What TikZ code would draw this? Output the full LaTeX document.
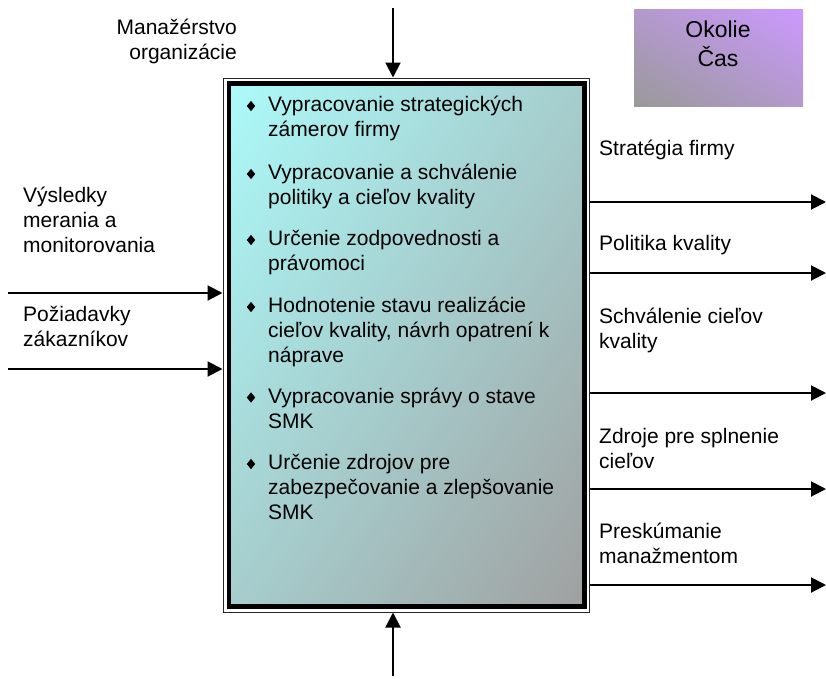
\documentclass[tikz,border=0pt]{standalone}
\usepackage{fontspec}
\setmainfont{Liberation Sans}
\usetikzlibrary{arrows.meta,shadings,shapes.geometric}
\definecolor{boxcyan}{RGB}{172,250,250}
\definecolor{boxgray}{RGB}{160,160,160}
\definecolor{envpurple}{RGB}{204,153,255}
\definecolor{envgray}{RGB}{153,153,153}
\begin{document}
\begin{tikzpicture}[x=1pt,y=-1pt,
  lbl/.style={inner sep=0pt, anchor=north west, align=left,
    font=\fontsize{21}{25}\selectfont},
  flow/.style={line width=2pt, -{Triangle[length=15pt,width=15pt]}},
  bulletmark/.style={diamond, fill=black, inner sep=0pt,
    minimum width=8.5pt, minimum height=10.5pt},
]
\useasboundingbox (0,0) rectangle (826,678);

% activity box: thin outer frame and heavy shaded inner frame
\node[draw=black!85, line width=1pt, minimum width=366pt, minimum height=534pt,
      inner sep=0pt] (outer) at (406,345) {};
\node[shade, shading=bilinear interpolation,
      upper left=boxcyan, lower right=boxgray,
      upper right=boxcyan!50!boxgray, lower left=boxcyan!50!boxgray,
      draw=black, line width=4.5pt, minimum width=355.5pt, minimum height=523pt,
      inner sep=0pt] (proc) at (406.75,345) {};

% environment box
\node[shade, shading=bilinear interpolation,
      upper right=envpurple, lower left=envgray,
      upper left=envpurple!50!envgray, lower right=envpurple!50!envgray,
      minimum width=169pt, minimum height=97pt, inner sep=0pt] (env) at (718.5,57.5) {};
\node[inner sep=0pt, anchor=north, align=center,
      font=\fontsize{23}{28}\selectfont] (envtext) at (718,17.4) {\strut Okolie\\Čas};

% activity items
\node[lbl] (i1) at (268,94)    {\strut Vypracovanie strategických\\zámerov firmy};
\node[lbl] (i2) at (268,162)   {\strut Vypracovanie a schválenie\\politiky a cieľov kvality};
\node[lbl] (i3) at (268,228)   {\strut Určenie zodpovednosti a\\právomoci};
\node[lbl] (i4) at (268,295)   {\strut Hodnotenie stavu realizácie\\cieľov kvality, návrh opatrení k\\náprave};
\node[lbl] (i5) at (268,385.5) {\strut Vypracovanie správy o stave\\SMK};
\node[lbl] (i6) at (268,452)   {\strut Určenie zdrojov pre\\zabezpečovanie a zlepšovanie\\SMK};
\foreach \i in {1,...,6}
  \node[bulletmark] (b\i) at ([xshift=-17pt,yshift=-12pt]i\i.north west) {};

% control label
\node[lbl, anchor=north east, align=right] (ctrl) at (237,17) {\strut Manažérstvo\\organizácie};

% input labels
\node[lbl] (in1) at (23,185) {\strut Výsledky\\merania a\\monitorovania};
\node[lbl] (in2) at (23,304) {\strut Požiadavky\\zákazníkov};

% output labels
\node[lbl] (out1) at (599,138) {\strut Stratégia firmy};
\node[lbl] (out2) at (599,233) {\strut Politika kvality};
\node[lbl] (out3) at (599,306) {\strut Schválenie cieľov\\kvality};
\node[lbl] (out4) at (599,426) {\strut Zdroje pre splnenie\\cieľov};
\node[lbl] (out5) at (599,521) {\strut Preskúmanie\\manažmentom};

% connector end points
\coordinate (ctop) at (393,8);
\coordinate (cbot) at (393,676);
\coordinate (l1) at (8,293);
\coordinate (l2) at (8,369);
\coordinate (r1) at (826,202);
\coordinate (r2) at (826,273);
\coordinate (r3) at (826,393);
\coordinate (r4) at (826,489);
\coordinate (r5) at (826,585);

% connectors
\draw[flow] (ctop) -- (ctop |- outer.north);
\draw[flow] (cbot) -- (cbot |- outer.south);
\draw[flow] (l1) -- (l1 -| outer.west);
\draw[flow] (l2) -- (l2 -| outer.west);
\foreach \r in {r1,r2,r3,r4,r5}
  \draw[flow] (\r -| outer.east) -- (\r);
\end{tikzpicture}
\end{document}
